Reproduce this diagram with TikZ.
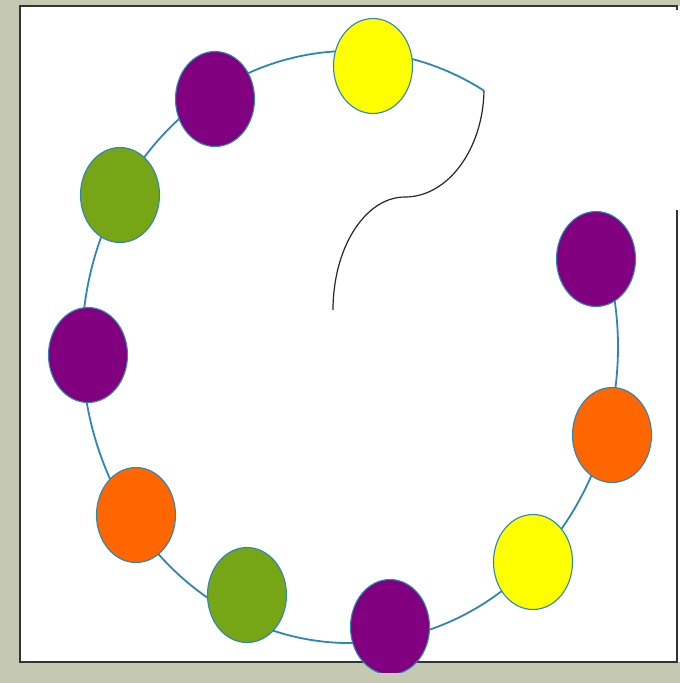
\documentclass[tikz,border=0pt]{standalone}
\usepackage{tikz}
\usetikzlibrary{shapes.geometric}

\definecolor{frame}{RGB}{198,201,177}
\definecolor{ringblue}{RGB}{46,134,180}
\definecolor{plum}{RGB}{128,0,128}
\definecolor{leaf}{RGB}{118,165,22}
\definecolor{tangerine}{RGB}{255,102,0}
\definecolor{lemon}{RGB}{255,255,0}

\begin{document}
\begin{tikzpicture}[x=1pt, y=-1pt,
    bead/.style={ellipse, draw=ringblue, line width=1.1pt, minimum width=79pt, minimum height=95pt, inner sep=0pt},
    ring/.style={ringblue, line width=1.8pt}]
    \useasboundingbox (0,0) rectangle (680,683);
    \fill[frame] (0,0) rectangle (680,683);
    \fill[white] (20,6) rectangle (680,662);
    \draw[line width=2pt, black!80] (677,10) -- (677,6) -- (20,6) -- (20,662) -- (677,662) -- (677,210);

    % the ring, open at the top right
    \coordinate (centre) at (350,347);
    \draw[ring] (centre) ++(-60:268 and 296) coordinate (tip)
        arc[start angle=-60, end angle=-376, x radius=268, y radius=296];

    % the hook
    \coordinate (bend) at (405,197);
    \coordinate (tail) at (333,310);
    \draw[black!85, line width=1.2pt] (tip) .. controls (483,149) and (448,197) .. (bend)
        .. controls (365,197) and (333,248) .. (tail);

    % beads
    \begin{scope}
    \clip (0,0) rectangle (680,672);
    \node[bead, fill=lemon] (y1) at (373,66) {};
    \node[bead, fill=plum] (p1) at (215,99) {};
    \node[bead, fill=leaf] (g1) at (120,195) {};
    \node[bead, fill=plum] (p2) at (88,355) {};
    \node[bead, fill=tangerine] (o1) at (136,515) {};
    \node[bead, fill=leaf] (g2) at (247,595) {};
    \node[bead, fill=plum] (p3) at (390,627) {};
    \node[bead, fill=lemon] (y2) at (533,562) {};
    \node[bead, fill=tangerine] (o2) at (612,435) {};
    \node[bead, fill=plum] (p4) at (596,259) {};
    \end{scope}
\end{tikzpicture}
\end{document}
